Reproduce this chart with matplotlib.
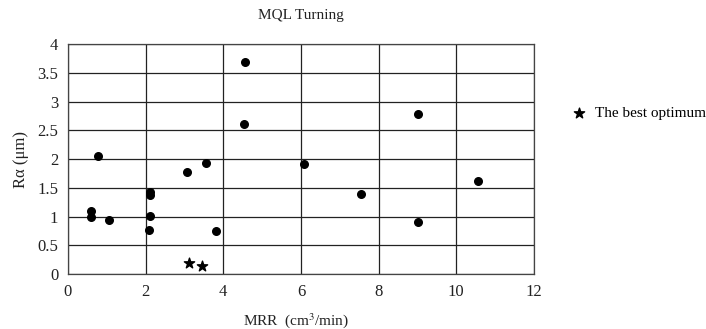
import numpy as np
import matplotlib
matplotlib.use('Agg')
from matplotlib import pyplot as plt

# MRR (cm3/min) vs Ra (um), MQL turning
mrr = [4.56, 4.54, 0.78, 3.07, 3.55, 6.07, 2.10, 2.10, 0.58, 0.58, 1.06, 2.10, 2.09, 3.81,
       9.01, 7.54, 9.01, 10.57]
ra = [3.69, 2.61, 2.05, 1.77, 1.94, 1.92, 1.43, 1.38, 1.09, 0.99, 0.94, 1.01, 0.77, 0.75,
      2.79, 1.39, 0.90, 1.62]

best_mrr = [3.12, 3.44]
best_ra = [0.19, 0.14]

xticks = [0, 2, 4, 6, 8, 10, 12]
yticks = [0, 0.5, 1, 1.5, 2, 2.5, 3, 3.5, 4]
yticklabels = ['0', '0.5', '1', '1.5', '2', '2.5', '3', '3.5', '4']

plt.rcParams['font.family'] = ['Liberation Serif', 'DejaVu Serif']
plt.rcParams['mathtext.fontset'] = 'stix'

fig = plt.figure(figsize=(7.06, 3.29), dpi=100, facecolor='w')
ax = fig.add_axes([0.0963, 0.167, 0.66, 0.699])

ax.scatter(mrr, ra, s=30, color='black', zorder=3)
ax.scatter(best_mrr, best_ra, s=60, marker='*', color='black', zorder=3,
           label='The best optimum')

ax.set_xlim(0, 12)
ax.set_ylim(0, 4)
ax.set_xticks(xticks)
ax.set_yticks(yticks)
ax.set_yticklabels(yticklabels)
ax.grid(True, color='#222222', linewidth=0.9)
ax.set_axisbelow(True)
ax.tick_params(length=0, labelsize=12, colors='#222222', pad=7)
for sp in ax.spines.values():
    sp.set_color('#444444')
    sp.set_linewidth(0.9)

ax.set_title('MQL Turning', fontsize=11, pad=18, color='#222222')
ax.set_xlabel('MRR  (cm$^3$/min)', fontsize=11, labelpad=8, color='#222222', x=0.49)
ax.set_ylabel('Rα (μm)', fontsize=12, labelpad=6, color='#222222')

fig.legend(loc='center left', bbox_to_anchor=(0.81, 0.657), frameon=False,
           fontsize=11, handletextpad=0.5, handlelength=1.0, borderaxespad=0,
           borderpad=0)

plt.savefig('out.png', dpi=100)
